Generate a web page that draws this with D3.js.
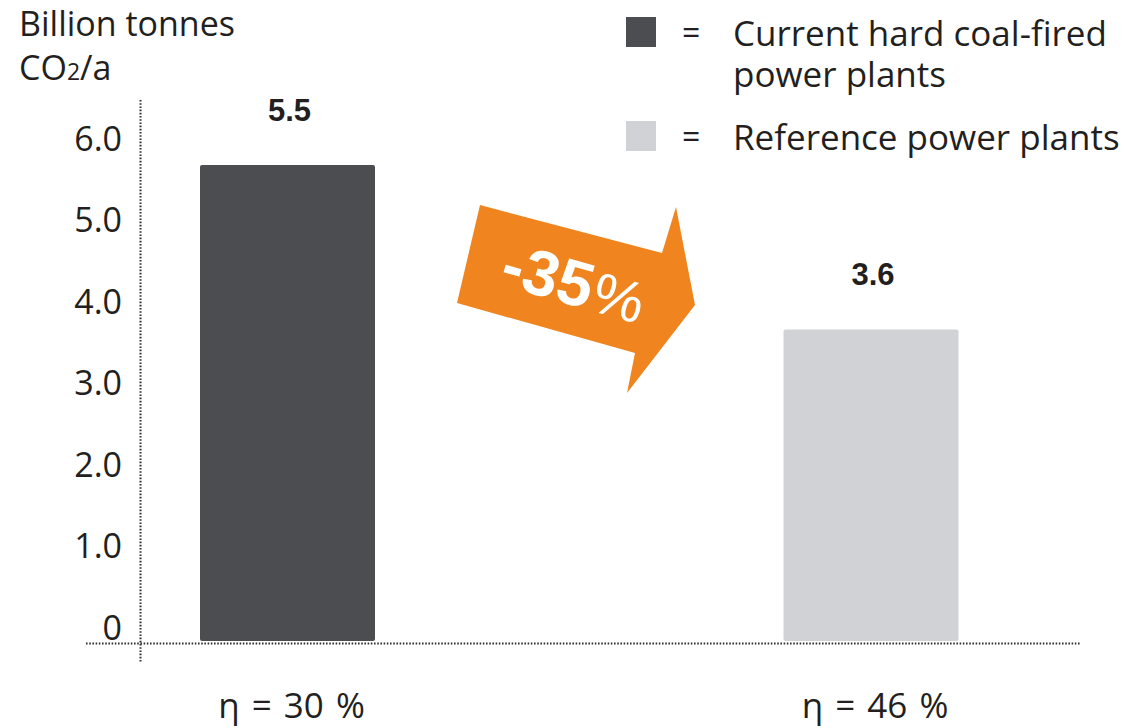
<!DOCTYPE html>
<html>
<head>
<meta charset="utf-8">
<script src="https://cdn.jsdelivr.net/npm/d3@7"></script>
<style>
  html, body { margin: 0; padding: 0; background: #fff; }
  svg { display: block; }
  .lbl { font-family: "Open Sans", "Liberation Sans", sans-serif; fill: #231f20; }
  .val { font-family: "Liberation Sans", Arial, sans-serif; font-weight: bold; fill: #231f20; }
</style>
</head>
<body>
<svg id="chart" width="1126" height="728"></svg>
<script>
// CO2 emissions per year, billion tonnes
const categories = ["η = 30 %", "η = 46 %"];
const series = ["Current hard coal-fired power plants", "Reference power plants"];
const values = [5.5, 3.6];
const tickValues = [0, 1, 2, 3, 4, 5, 6];
const tickLabels = ["0", "1.0", "2.0", "3.0", "4.0", "5.0", "6.0"];
const reductionLabel = ["-35", "%"];

const colors = ["#4b4d50", "#d0d2d5"];
const orange = "#f0851f";

const svg = d3.select("#chart");

// Bar scale: baseline at the dotted zero line
const y = d3.scaleLinear().domain([0, 5.5]).range([641, 165]);
// Tick labels sit on their own evenly spaced grid
const yTicks = d3.scaleLinear().domain([0, 6]).range([627, 138]);

// Bar centres
const x = d3.scalePoint().domain(categories).range([287.5, 871]);
const barWidth = 175;

// Vertical dotted axis line
svg.append("line")
  .attr("x1", 140.5).attr("x2", 140.5).attr("y1", 100).attr("y2", 663)
  .attr("stroke", "#333").attr("stroke-width", 2).attr("stroke-dasharray", "1.6,1.6");

// Tick labels
const axis = d3.axisLeft(yTicks).tickValues(tickValues)
  .tickFormat((d, i) => tickLabels[i]).tickSize(0).tickPadding(0);
const gAxis = svg.append("g").attr("transform", "translate(122,0)").call(axis);
gAxis.select(".domain").remove();
gAxis.selectAll("text")
  .attr("class", "lbl")
  .attr("font-size", 34)
  .attr("fill", "#231f20")
  .attr("font-family", "'Open Sans', 'Liberation Sans', sans-serif")
  .attr("dy", "0.36em");

// Bars
svg.selectAll("rect.bar").data(values).join("rect")
  .attr("class", "bar")
  .attr("x", (d, i) => x(categories[i]) - barWidth / 2)
  .attr("width", barWidth)
  .attr("y", d => y(d))
  .attr("height", d => y(0) - y(d))
  .attr("rx", 2)
  .attr("fill", (d, i) => colors[i]);

// Baseline (dotted)
svg.append("line")
  .attr("x1", 86).attr("x2", 1080).attr("y1", 643.5).attr("y2", 643.5)
  .attr("stroke", "#333").attr("stroke-width", 2).attr("stroke-dasharray", "1.6,1.6");

// Value labels
svg.selectAll("text.val").data(values).join("text")
  .attr("class", "val")
  .attr("x", (d, i) => x(categories[i]) + 2)
  .attr("y", d => y(d) - 44)
  .attr("text-anchor", "middle")
  .attr("font-size", 31)
  .text(d => d.toFixed(1));

// Category labels
svg.selectAll("text.cat").data(categories).join("text")
  .attr("class", "lbl cat")
  .attr("x", d => x(d) + 4)
  .attr("y", 718)
  .attr("text-anchor", "middle")
  .attr("font-size", 35)
  .attr("word-spacing", 3)
  .text(d => d);

// Axis title
const title = svg.append("text").attr("class", "lbl").attr("font-size", 34);
title.append("tspan").attr("x", 19).attr("y", 36).text("Billion tonnes");
title.append("tspan").attr("x", 19).attr("y", 80).text("CO");
title.append("tspan").attr("font-size", 23).text("2");
title.append("tspan").text("/a");

// Legend
const legend = svg.append("g");
const legendRows = [
  { y: 17, lines: ["Current hard coal-fired", "power plants"] },
  { y: 121, lines: ["Reference power plants"] }
];
legendRows.forEach((row, i) => {
  legend.append("rect").attr("x", 626).attr("y", row.y).attr("width", 30).attr("height", 30)
    .attr("fill", colors[i]);
  legend.append("text").attr("class", "lbl").attr("font-size", 32)
    .attr("x", 682).attr("y", row.y + 27).text("=");
  row.lines.forEach((ln, j) => {
    legend.append("text").attr("class", "lbl").attr("font-size", 35)
      .attr("x", 733).attr("y", row.y + 29 + j * 41).text(ln);
  });
});

// Reduction arrow
const arrowPts = [[480, 205], [662, 253], [676, 207], [695, 305], [627, 393], [635, 353], [457, 303]];
svg.append("path")
  .attr("d", d3.line()(arrowPts) + "Z")
  .attr("fill", orange);

const arrowText = svg.append("text")
  .attr("transform", "translate(568,304) rotate(16)")
  .attr("text-anchor", "middle")
  .attr("font-family", "'Liberation Sans', Arial, sans-serif")
  .attr("font-size", 64)
  .attr("fill", "#fff");
arrowText.append("tspan").attr("font-weight", "bold").text(reductionLabel[0]);
arrowText.append("tspan").attr("font-size", 58).attr("dx", 2).text(reductionLabel[1]);
</script>
</body>
</html>
